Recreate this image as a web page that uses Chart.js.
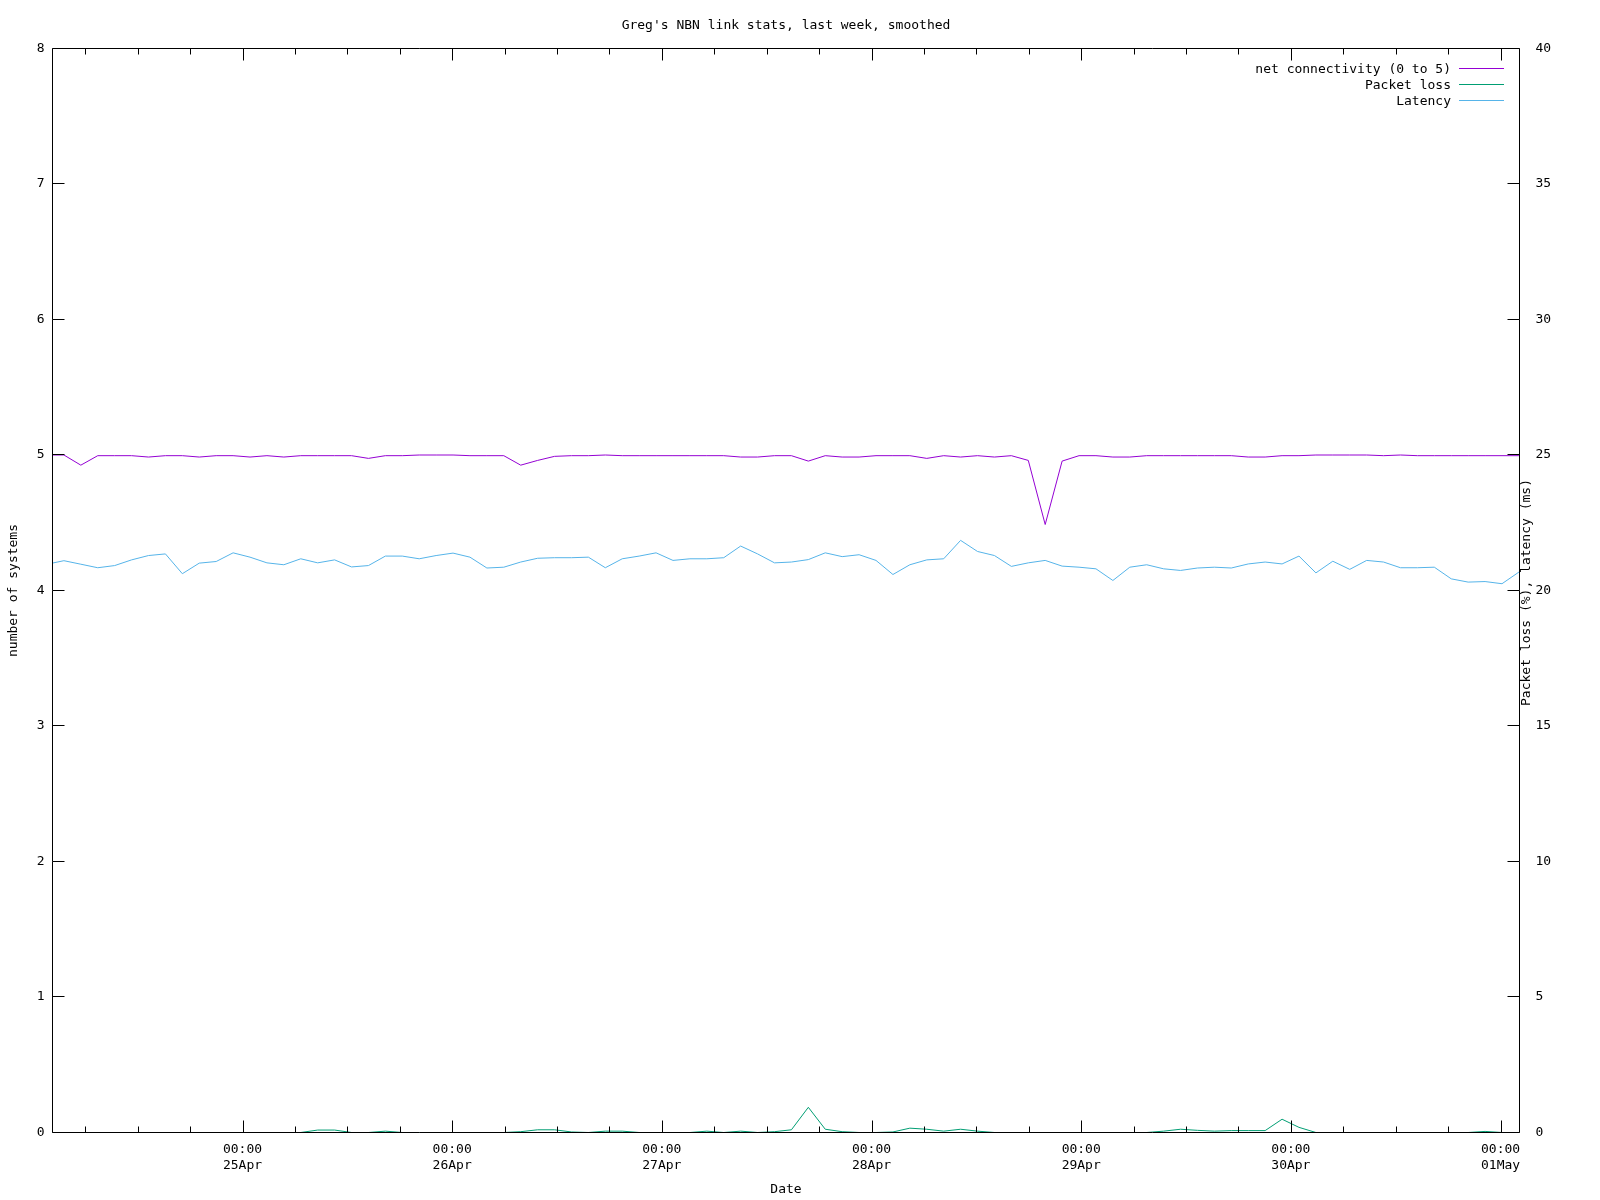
<!DOCTYPE html>
<html lang="en">
<head>
    <meta charset="UTF-8">
    <title>Greg's NBN link stats</title>
    <script src="https://cdn.jsdelivr.net/npm/chart.js"></script>
    <style>
        body {
            margin: 0;
            padding: 0;
            background: #fff;
            overflow: hidden;
        }
        canvas {
            display: block;
        }
    </style>
</head>
<body>
    <canvas id="linkChart" width="1600" height="1200"></canvas>
    <script>
        // Samples are roughly every 1h56m, hours counted from 25Apr 00:00
        const tStart = -22.38;
        const tStep = 1.9366;

        const xMin = -21.75;
        const xMax = 146.17;
        const xTicks = [-18, -12, -6, 0, 6, 12, 18, 24, 30, 36, 42, 48, 54, 60, 66, 72, 78, 84,
                        90, 96, 102, 108, 114, 120, 126, 132, 138, 144];
        const dayLabels = ['25Apr', '26Apr', '27Apr', '28Apr', '29Apr', '30Apr', '01May'];

        const connectivity = [
            5.0, 5.0, 4.925, 4.995, 4.995, 4.995, 4.985, 4.995, 4.995, 4.985,
            4.995, 4.995, 4.985, 4.995, 4.985, 4.995, 4.995, 4.995, 4.995, 4.975,
            4.995, 4.995, 5.0, 5.0, 5.0, 4.995, 4.995, 4.995, 4.925, 4.96,
            4.99, 4.995, 4.995, 5.0, 4.995, 4.995, 4.995, 4.995, 4.995, 4.995,
            4.995, 4.985, 4.985, 4.995, 4.995, 4.955, 4.995, 4.985, 4.985, 4.995,
            4.995, 4.995, 4.975, 4.995, 4.985, 4.995, 4.985, 4.995, 4.96, 4.487,
            4.955, 4.995, 4.995, 4.985, 4.985, 4.995, 4.995, 4.995, 4.995, 4.995,
            4.995, 4.985, 4.985, 4.995, 4.995, 5.0, 5.0, 5.0, 5.0, 4.995,
            5.0, 4.995, 4.995, 4.995, 4.995, 4.995, 4.995, 4.995
        ];
        const packetLoss = [
            0, 0, 0, 0, 0, 0, 0, 0, 0, 0,
            0, 0, 0, 0, 0, 0, 0.09, 0.09, 0, 0,
            0.05, 0, 0, 0, 0, 0, 0, 0, 0.03, 0.1,
            0.1, 0.02, 0, 0.05, 0.05, 0, 0, 0, 0, 0.05,
            0, 0.05, 0, 0.03, 0.1, 0.93, 0.12, 0.03, 0, 0,
            0.02, 0.16, 0.12, 0.05, 0.12, 0.05, 0, 0, 0, 0,
            0, 0, 0, 0, 0, 0, 0.05, 0.12, 0.08, 0.05,
            0.07, 0.07, 0.07, 0.49, 0.19, 0, 0, 0, 0, 0,
            0, 0, 0, 0, 0, 0.04, 0, 0
        ];
        const latency = [
            20.97, 21.10, 20.97, 20.84, 20.92, 21.13, 21.29, 21.35, 20.62, 21.01,
            21.07, 21.39, 21.23, 21.02, 20.95, 21.17, 21.02, 21.13, 20.87, 20.92,
            21.27, 21.27, 21.17, 21.29, 21.38, 21.23, 20.83, 20.86, 21.05, 21.19,
            21.21, 21.21, 21.23, 20.84, 21.17, 21.27, 21.39, 21.11, 21.17, 21.17,
            21.21, 21.64, 21.35, 21.02, 21.05, 21.14, 21.39, 21.25, 21.32, 21.11,
            20.59, 20.95, 21.13, 21.17, 21.85, 21.44, 21.29, 20.89, 21.02, 21.11,
            20.90, 20.86, 20.80, 20.37, 20.86, 20.95, 20.80, 20.74, 20.83, 20.86,
            20.83, 20.98, 21.05, 20.98, 21.27, 20.65, 21.08, 20.78, 21.11, 21.05,
            20.84, 20.84, 20.86, 20.43, 20.31, 20.33, 20.25, 20.68
        ];

        const toPoints = vals => vals.map((v, i) => ({ x: tStart + i * tStep, y: v }));

        const FONT = '13px "DejaVu Sans Mono", monospace';
        Chart.defaults.font.family = '"DejaVu Sans Mono", monospace';
        Chart.defaults.font.size = 13;
        Chart.defaults.color = '#000';

        // gnuplot style frame, inward ticks, key and titles
        const gnuplotDecor = {
            id: 'gnuplotDecor',
            afterDatasetsDraw(chart) {
                const { ctx, chartArea: a, scales } = chart;
                ctx.save();
                ctx.strokeStyle = '#000';
                ctx.lineWidth = 1;
                ctx.beginPath();
                ctx.rect(a.left, a.top, a.right - a.left, a.bottom - a.top);
                scales.x.ticks.forEach(t => {
                    const px = Math.round(scales.x.getPixelForValue(t.value)) + 0.5;
                    const len = t.value % 24 === 0 ? 12 : 6;
                    ctx.moveTo(px, a.bottom);
                    ctx.lineTo(px, a.bottom - len);
                    ctx.moveTo(px, a.top);
                    ctx.lineTo(px, a.top + len);
                });
                scales.y.ticks.forEach(t => {
                    const py = Math.floor(scales.y.getPixelForValue(t.value) - 0.01) + 0.5;
                    ctx.moveTo(a.left, py);
                    ctx.lineTo(a.left + 12, py);
                });
                scales.y2.ticks.forEach(t => {
                    const py = Math.floor(scales.y2.getPixelForValue(t.value) - 0.01) + 0.5;
                    ctx.moveTo(a.right, py);
                    ctx.lineTo(a.right - 12, py);
                });
                ctx.stroke();

                // key, top right inside the plot
                ctx.font = FONT;
                ctx.textAlign = 'right';
                ctx.textBaseline = 'middle';
                chart.data.datasets.forEach((ds, k) => {
                    const y = 69.5 + k * 16;
                    ctx.fillStyle = '#000';
                    ctx.fillText(ds.label, 1451, y);
                    ctx.strokeStyle = ds.borderColor;
                    ctx.beginPath();
                    ctx.moveTo(1459, y - 1);
                    ctx.lineTo(1504, y - 1);
                    ctx.stroke();
                });
                ctx.restore();
            },
            afterDraw(chart) {
                const { ctx, chartArea: a } = chart;
                ctx.save();
                ctx.font = FONT;
                ctx.fillStyle = '#000';
                ctx.textAlign = 'center';
                ctx.textBaseline = 'middle';
                ctx.fillText("Greg's NBN link stats, last week, smoothed", (a.left + a.right) / 2, 25.5);
                ctx.translate(1527, (a.top + a.bottom) / 2 + 2);
                ctx.rotate(-Math.PI / 2);
                ctx.fillText('Packet loss (%), latency (ms)', 0, 0);
                ctx.restore();
            }
        };

        new Chart(document.getElementById('linkChart'), {
            type: 'line',
            data: {
                datasets: [
                    {
                        label: 'net connectivity (0 to 5)',
                        data: toPoints(connectivity),
                        yAxisID: 'y',
                        borderColor: '#9400d3',
                        borderWidth: 1,
                        pointRadius: 0,
                        tension: 0
                    },
                    {
                        label: 'Packet loss',
                        data: toPoints(packetLoss),
                        yAxisID: 'y2',
                        borderColor: '#009e73',
                        borderWidth: 1,
                        pointRadius: 0,
                        tension: 0
                    },
                    {
                        label: 'Latency',
                        data: toPoints(latency),
                        yAxisID: 'y2',
                        borderColor: '#56b4e9',
                        borderWidth: 1,
                        pointRadius: 0,
                        tension: 0
                    }
                ]
            },
            options: {
                responsive: false,
                animation: false,
                devicePixelRatio: 1,
                layout: { padding: { top: 48.5, left: 0, right: 0, bottom: 0 } },
                plugins: {
                    legend: { display: false },
                    tooltip: { enabled: false },
                    title: { display: false }
                },
                scales: {
                    x: {
                        type: 'linear',
                        min: xMin,
                        max: xMax,
                        grid: { display: false, drawTicks: false },
                        border: { display: false },
                        afterBuildTicks: s => { s.ticks = xTicks.map(v => ({ value: v })); },
                        afterFit: s => { s.height = 67.5; },
                        ticks: {
                            autoSkip: false,
                            maxRotation: 0,
                            minRotation: 0,
                            padding: 9.5,
                            callback: v => v % 24 === 0 ? ['00:00', dayLabels[v / 24]] : ''
                        },
                        title: { display: true, text: 'Date', padding: { top: 0, bottom: 3 } }
                    },
                    y: {
                        position: 'left',
                        min: 0,
                        max: 8,
                        grid: { display: false, drawTicks: false },
                        border: { display: false },
                        afterFit: s => { s.width = 52.5; },
                        ticks: { stepSize: 1, padding: 8 },
                        title: { display: true, text: 'number of systems', padding: { top: 5.5, bottom: 0 } }
                    },
                    y2: {
                        position: 'right',
                        min: 0,
                        max: 40,
                        grid: { display: false, drawTicks: false },
                        border: { display: false },
                        afterFit: s => { s.width = 80.5; },
                        ticks: { stepSize: 5, padding: 16 }
                    }
                }
            },
            plugins: [gnuplotDecor]
        });
    </script>
</body>
</html>
